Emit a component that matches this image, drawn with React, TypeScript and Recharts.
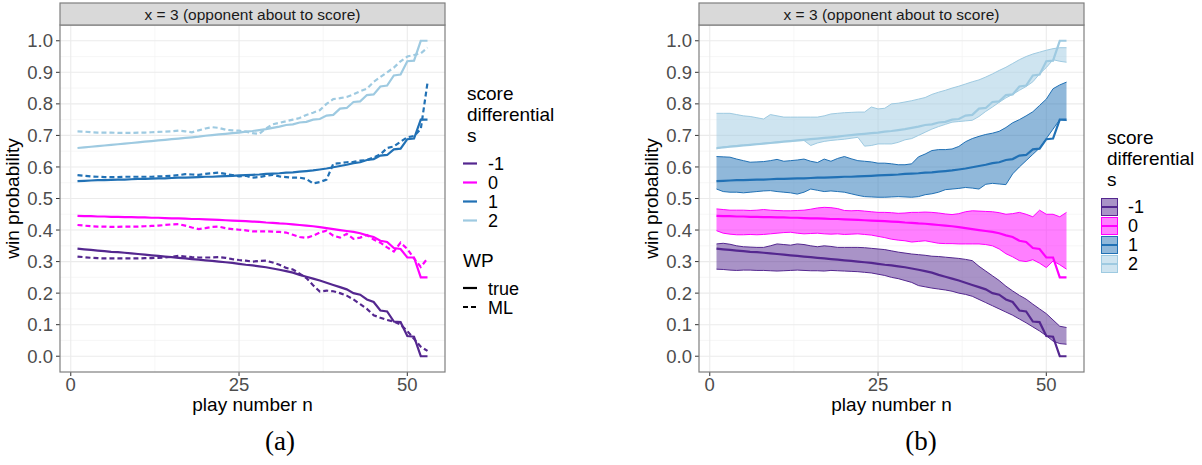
import { ComposedChart, Line, Area, XAxis, YAxis, CartesianGrid } from "recharts"

// play number n
const plays = [
  1, 2, 3, 4, 5, 6, 7, 8, 9, 10, 11, 12, 13, 14, 15, 16, 17, 18, 19, 20,
  21, 22, 23, 24, 25, 26, 27, 28, 29, 30, 31, 32, 33, 34, 35, 36, 37, 38, 39, 40,
  41, 42, 43, 44, 45, 46, 47, 48, 49, 50, 51, 52, 53,
]

const xTicks = [0, 25, 50]
const xMinor = [12.5, 37.5]
const yTicks = [0, 0.1, 0.2, 0.3, 0.4, 0.5, 0.6, 0.7, 0.8, 0.9, 1.0]
const yMinor = [0.05, 0.15, 0.25, 0.35, 0.45, 0.55, 0.65, 0.75, 0.85, 0.95]

const diffLabels = ["-1", "0", "1", "2"]
const diffColors = ["#54278f", "#ff00ff", "#2171b5", "#9ecae1"]

// true WP
const trueM1 = [
  .341, .339, .337, .335, .333, .331, .330, .328, .326, .324,
  .322, .320, .318, .316, .314, .312, .310, .308, .306, .304,
  .302, .300, .298, .296, .293, .290, .288, .285, .282, .278,
  .274, .270, .265, .258, .252, .246, .240, .233, .226, .219,
  .212, .200, .195, .180, .172, .145, .142, .110, .108, .064,
  .062, 0, 0,
]
const trueZ = [
  .445, .444, .444, .443, .443, .442, .442, .441, .441, .440,
  .440, .439, .439, .438, .437, .437, .436, .435, .435, .434,
  .433, .432, .431, .430, .429, .428, .427, .426, .424, .423,
  .421, .420, .418, .416, .414, .412, .409, .406, .403, .400,
  .397, .394, .390, .383, .378, .366, .362, .343, .340, .313,
  .313, .250, .250,
]
const trueP1 = [
  .555, .556, .557, .558, .558, .559, .560, .560, .561, .562,
  .562, .563, .564, .564, .565, .566, .566, .567, .568, .569,
  .569, .570, .571, .572, .573, .574, .575, .576, .578, .579,
  .580, .582, .583, .585, .587, .589, .592, .595, .599, .603,
  .607, .612, .615, .622, .625, .636, .638, .656, .658, .688,
  .690, .750, .750,
]
const trueP2 = [
  .660, .662, .664, .666, .668, .670, .672, .674, .676, .678,
  .680, .682, .684, .686, .688, .690, .692, .694, .696, .699,
  .701, .703, .705, .707, .709, .712, .714, .717, .720, .724,
  .728, .733, .735, .741, .743, .750, .752, .763, .765, .785,
  .787, .806, .808, .828, .830, .855, .858, .890, .893, .935,
  .937, 1.0, 1.0,
]

// ML WP
const mlM1 = [
  .316, .314, .312, .311, .310, .310, .310, .310, .310, .310,
  .311, .311, .312, .313, .315, .318, .316, .314, .313, .313,
  .313, .314, .312, .308, .305, .303, .300, .302, .303, .297,
  .290, .280, .275, .262, .248, .225, .205, .208, .206, .200,
  .192, .180, .165, .150, .130, .122, .115, .110, .100, .080,
  .055, .030, .017,
]
const mlZ = [
  .416, .414, .412, .411, .411, .410, .410, .411, .411, .411,
  .412, .413, .414, .416, .418, .419, .414, .408, .403, .406,
  .410, .411, .406, .403, .401, .399, .396, .396, .396, .395,
  .394, .392, .385, .378, .375, .382, .392, .398, .382, .376,
  .388, .372, .376, .384, .370, .360, .345, .332, .360, .340,
  .310, .283, .310,
]
const mlP1 = [
  .574, .572, .570, .569, .568, .568, .568, .569, .569, .569,
  .569, .569, .570, .571, .572, .574, .577, .576, .575, .578,
  .580, .582, .578, .574, .570, .572, .566, .568, .572, .575,
  .570, .568, .566, .566, .562, .548, .552, .560, .610, .612,
  .615, .616, .620, .622, .630, .640, .660, .665, .680, .694,
  .698, .720, .867,
]
const mlP2 = [
  .713, .712, .710, .709, .709, .709, .708, .708, .708, .709,
  .709, .710, .711, .712, .713, .715, .713, .710, .716, .722,
  .726, .724, .718, .716, .715, .712, .707, .705, .722, .735,
  .740, .745, .750, .755, .765, .772, .780, .800, .815, .818,
  .822, .830, .840, .848, .870, .885, .900, .915, .935, .950,
  .955, .960, .978,
]

// ML interval bounds
const loM1 = [
  .276, .275, .273, .272, .273, .273, .272, .272, .271, .270,
  .271, .272, .273, .272, .271, .271, .270, .272, .271, .270,
  .269, .268, .266, .264, .260, .256, .250, .246, .240, .234,
  .224, .220, .216, .213, .210, .206, .200, .196, .190, .180,
  .170, .160, .150, .140, .130, .118, .106, .093, .080, .065,
  .048, .040, .038,
]
const hiM1 = [
  .356, .358, .355, .350, .347, .346, .345, .345, .350, .356,
  .354, .352, .356, .354, .350, .347, .350, .348, .345, .345,
  .345, .345, .344, .342, .340, .338, .334, .330, .327, .324,
  .322, .320, .317, .316, .314, .312, .310, .307, .303, .285,
  .270, .255, .240, .222, .207, .193, .181, .165, .150, .135,
  .115, .095, .091,
]
const loZ = [
  .398, .390, .387, .385, .385, .386, .385, .386, .388, .390,
  .392, .393, .390, .388, .389, .390, .388, .387, .388, .386,
  .387, .388, .386, .384, .380, .376, .371, .368, .366, .362,
  .364, .366, .362, .358, .357, .357, .356, .356, .356, .356,
  .354, .350, .340, .325, .315, .303, .300, .306, .295, .281,
  .302, .290, .276,
]
const hiZ = [
  .467, .465, .463, .463, .463, .462, .463, .465, .463, .462,
  .461, .461, .462, .463, .466, .470, .472, .471, .468, .462,
  .461, .462, .460, .458, .456, .456, .455, .453, .454, .456,
  .456, .457, .456, .454, .451, .449, .452, .458, .461, .460,
  .459, .458, .455, .450, .452, .456, .450, .442, .463, .450,
  .450, .442, .456,
]
const loP1 = [
  .530, .522, .520, .520, .518, .520, .522, .524, .525, .522,
  .520, .518, .514, .520, .530, .526, .522, .524, .522, .520,
  .515, .510, .506, .505, .504, .504, .505, .506, .505, .504,
  .506, .512, .515, .520, .528, .530, .532, .535, .533, .530,
  .545, .548, .546, .544, .578, .600, .620, .640, .660, .690,
  .720, .750, .747,
]
const hiP1 = [
  .633, .632, .631, .625, .620, .615, .616, .617, .620, .624,
  .618, .620, .622, .625, .618, .614, .625, .618, .627, .633,
  .626, .620, .618, .616, .612, .612, .610, .607, .607, .610,
  .632, .641, .652, .655, .655, .657, .665, .680, .690, .697,
  .703, .707, .713, .725, .740, .750, .762, .775, .795, .815,
  .848, .860, .869,
]
const loP2 = [
  .657, .663, .666, .668, .670, .671, .673, .675, .677, .679,
  .681, .682, .683, .684, .668, .676, .681, .684, .686, .688,
  .691, .694, .666, .668, .673, .673, .673, .678, .686, .690,
  .700, .710, .720, .728, .735, .742, .744, .746, .748, .760,
  .776, .790, .805, .819, .830, .843, .855, .870, .895, .915,
  .940, .935, .932,
]
const hiP2 = [
  .770, .770, .770, .766, .762, .760, .756, .752, .766, .762,
  .758, .758, .758, .758, .758, .758, .762, .768, .770, .772,
  .773, .774, .774, .790, .784, .786, .800, .802, .806, .810,
  .815, .820, .830, .837, .843, .850, .856, .863, .870, .876,
  .885, .895, .906, .916, .928, .940, .950, .958, .964, .970,
  .975, .978, .978,
]

const trueSets = [trueM1, trueZ, trueP1, trueP2]
const mlSets = [mlM1, mlZ, mlP1, mlP2]
const loSets = [loM1, loZ, loP1, loP2]
const hiSets = [hiM1, hiZ, hiP1, hiP2]

const rows = plays.map((n, i) => {
  const r: Record<string, any> = { n }
  diffLabels.forEach((_, g) => {
    r["t" + g] = trueSets[g][i]
    r["m" + g] = mlSets[g][i]
    r["lo" + g] = loSets[g][i]
    r["hi" + g] = hiSets[g][i]
    r["b" + g] = [loSets[g][i], hiSets[g][i]]
  })
  return r
})

const FONT = '"Liberation Sans", Arial, Helvetica, sans-serif'
const SERIF = '"Liberation Serif", "DejaVu Serif", serif'
const CW = 455
const CH = 420

function Panel({ left, bands }: { left: number; bands: boolean }) {
  return (
    <div style={{ position: "absolute", left, top: 0, width: CW, height: CH }}>
      <ComposedChart width={CW} height={CH} data={rows} margin={{ top: 25, right: 10, left: 15, bottom: 18 }}>
        <CartesianGrid stroke="#f4f4f4" strokeWidth={0.7} horizontalValues={yMinor} verticalValues={xMinor} />
        <CartesianGrid stroke="#ebebeb" strokeWidth={1.1} horizontalValues={yTicks} verticalValues={xTicks} />
        <XAxis
          dataKey="n" type="number" domain={[-1.6, 55.6]} ticks={xTicks} allowDataOverflow
          height={30} axisLine={false} tickSize={4} tickMargin={2}
          tickLine={{ stroke: "#333" }} tick={{ fontSize: 18.5, fill: "#4d4d4d" }}
        />
        <YAxis
          type="number" domain={[-0.05, 1.05]} ticks={yTicks} allowDataOverflow
          width={45} axisLine={false} tickSize={4} tickMargin={3}
          tickLine={{ stroke: "#333" }} tick={{ fontSize: 18.5, fill: "#4d4d4d" }}
          tickFormatter={(v: number) => v.toFixed(1)}
        />
        {bands && diffColors.map((c, g) => (
          <Area key={"b" + g} dataKey={"b" + g} type="linear" fill={c} fillOpacity={0.5} stroke="none" isAnimationActive={false} />
        ))}
        {bands && diffColors.map((c, g) => (
          <Line key={"lo" + g} dataKey={"lo" + g} type="linear" stroke={c} strokeWidth={1} dot={false} isAnimationActive={false} />
        ))}
        {bands && diffColors.map((c, g) => (
          <Line key={"hi" + g} dataKey={"hi" + g} type="linear" stroke={c} strokeWidth={1} dot={false} isAnimationActive={false} />
        ))}
        {diffColors.map((c, g) => (
          <Line key={"t" + g} dataKey={"t" + g} type="linear" stroke={c} strokeWidth={2.2} dot={false} isAnimationActive={false} />
        ))}
        {!bands && diffColors.map((c, g) => (
          <Line key={"m" + g} dataKey={"m" + g} type="linear" stroke={c} strokeWidth={2.2} strokeDasharray="5 3" dot={false} isAnimationActive={false} />
        ))}
      </ComposedChart>
    </div>
  )
}

function Frame({ x }: { x: number }) {
  return (
    <>
      <rect x={x} y={25} width={385} height={347} fill="none" stroke="#7f7f7f" strokeWidth={1.2} />
      <rect x={x} y={3} width={385} height={22} fill="#d9d9d9" stroke="#7f7f7f" strokeWidth={1.2} />
      <text x={x + 192.5} y={19.5} textAnchor="middle" fontSize={15.5} fill="#1a1a1a">x = 3 (opponent about to score)</text>
      <text x={x + 192.5} y={411} textAnchor="middle" fontSize={19} fill="#000">play number n</text>
      <text transform={`translate(${x - 41},198.5) rotate(-90)`} textAnchor="middle" fontSize={19} fill="#000">win probability</text>
    </>
  )
}

export default function App() {
  const keyYa = [163.5, 182.5, 201.5, 220.5]
  const keyYb = [207, 226, 245, 264]
  return (
    <div style={{ position: "absolute", left: 0, top: 0, width: 1202, height: 465, background: "#fff", fontFamily: FONT }}>
      <Panel left={0} bands={false} />
      <Panel left={639} bands={true} />
      <svg width={1202} height={465} style={{ position: "absolute", left: 0, top: 0, pointerEvents: "none", fontFamily: FONT }}>
        <Frame x={60} />
        <Frame x={699} />

        {/* legend (a) */}
        <text x={467} y={100} fontSize={19}>score</text>
        <text x={467} y={121} fontSize={19}>differential</text>
        <text x={467} y={142} fontSize={19}>s</text>
        {diffColors.map((c, g) => (
          <g key={"la" + g}>
            <line x1={463} x2={477} y1={keyYa[g]} y2={keyYa[g]} stroke={c} strokeWidth={2.2} />
            <text x={488} y={keyYa[g] + 6.3} fontSize={18}>{diffLabels[g]}</text>
          </g>
        ))}
        <text x={463} y={267} fontSize={19}>WP</text>
        <line x1={463} x2={477} y1={288} y2={288} stroke="#000" strokeWidth={2.2} />
        <text x={488} y={294.5} fontSize={18}>true</text>
        <line x1={463} x2={477} y1={307} y2={307} stroke="#000" strokeWidth={2.2} strokeDasharray="5 3" />
        <text x={488} y={313.5} fontSize={18}>ML</text>

        {/* legend (b) */}
        <text x={1107} y={144} fontSize={19}>score</text>
        <text x={1107} y={165} fontSize={19}>differential</text>
        <text x={1107} y={186} fontSize={19}>s</text>
        {diffColors.map((c, g) => (
          <g key={"lb" + g}>
            <rect x={1101.5} y={keyYb[g] - 8.5} width={16} height={17} fill={c} fillOpacity={0.5} stroke={c} strokeWidth={1} />
            <line x1={1101.5} x2={1117.5} y1={keyYb[g]} y2={keyYb[g]} stroke={c} strokeWidth={2} />
            <text x={1128} y={keyYb[g] + 6.3} fontSize={18}>{diffLabels[g]}</text>
          </g>
        ))}

        <text x={280} y={450} textAnchor="middle" fontSize={27} fontFamily={SERIF}>(a)</text>
        <text x={921} y={450} textAnchor="middle" fontSize={27} fontFamily={SERIF}>(b)</text>
      </svg>
    </div>
  )
}
